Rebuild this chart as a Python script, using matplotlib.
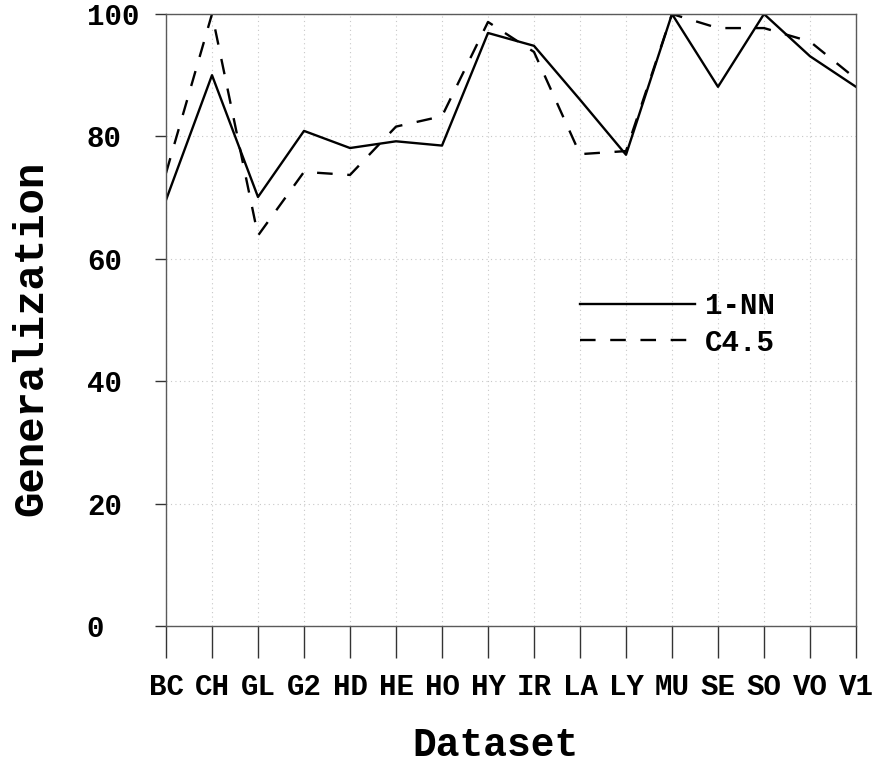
import matplotlib
matplotlib.use("Agg")
import matplotlib.pyplot as plt

datasets = ["BC", "CH", "GL", "G2", "HD", "HE", "HO", "HY", "IR", "LA",
            "LY", "MU", "SE", "SO", "VO", "V1"]
nn1 = [69.6, 90.0, 70.1, 80.9, 78.1, 79.2, 78.5, 96.9, 94.8, 86.0,
       77.0, 100.0, 88.1, 100.0, 93.1, 88.1]
c45 = [74.0, 100.0, 63.8, 74.2, 73.7, 81.6, 83.3, 98.7, 93.8, 77.1,
       77.6, 100.0, 97.7, 97.7, 95.5, 89.4]
yticks = [0, 20, 40, 60, 80, 100]

plt.rcParams['font.family'] = ['Liberation Mono', 'DejaVu Sans Mono']
plt.rcParams['font.weight'] = 'bold'

fig = plt.figure(figsize=(8.72, 7.65), dpi=100)
ax = fig.add_axes([166/872, 1 - 626/765, (856-166)/872, (626-14)/765])

x = list(range(len(datasets)))
ax.plot(x, nn1, color='black', lw=1.7, label='1-NN')
ax.plot(x, c45, color='black', lw=1.7, dashes=(6.6, 6.2), label='C4.5')

ax.set_xlim(0, len(datasets) - 1)
ax.set_ylim(0, 100)
ax.set_xticks(x)
ax.set_xticklabels(datasets)
ax.set_yticks(yticks)
ax.set_yticklabels([str(v) for v in yticks])

ax.grid(True, color='#c8c8c8', linestyle=(0, (1, 3)), lw=0.8)
ax.set_axisbelow(True)

for s in ax.spines.values():
    s.set_color('#5a5a5a')
    s.set_linewidth(1.0)

ax.tick_params(axis='x', length=23, width=1.0, color='#333333', pad=11,
               labelsize=21)
ax.tick_params(axis='y', length=8, width=1.0, color='#333333', pad=49,
               labelsize=21)
for lab in ax.get_yticklabels():
    lab.set_horizontalalignment('left')
for lab in ax.get_xticklabels() + ax.get_yticklabels():
    lab.set_fontweight('bold')

ax.set_xlabel('Dataset', fontsize=28.5, fontweight='bold')
ax.xaxis.set_label_coords(0.478, -0.163)
ax.set_ylabel('Generalization', fontsize=30.5, fontweight='bold')
ax.yaxis.set_label_coords(-0.1667, 0.47)

leg = ax.legend(loc='center left', bbox_to_anchor=(0.6, 0.493), frameon=False,
                handlelength=3.94, handletextpad=0.34, borderpad=0,
                borderaxespad=0, labelspacing=0.3,
                prop={'weight': 'bold', 'size': 21})

fig.savefig('out.png', dpi=100)
